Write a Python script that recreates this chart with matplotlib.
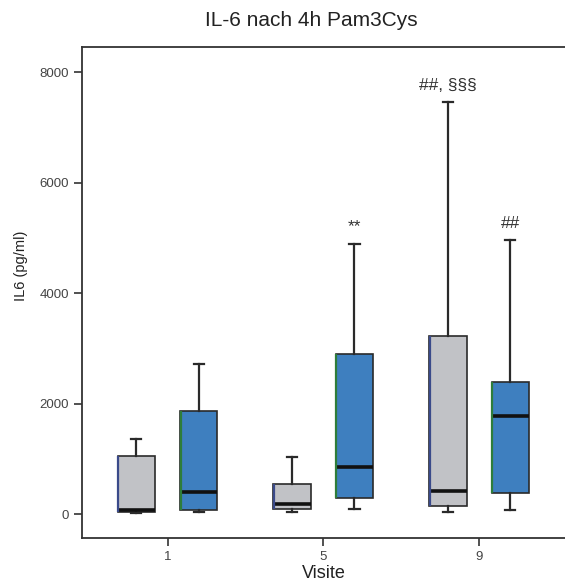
import matplotlib.pyplot as plt

plt.rcParams['font.family'] = ['Liberation Sans', 'DejaVu Sans']

# Visits on the x axis, two groups per visit
visits = ['1', '5', '9']
group_labels = ['Kontrolle', 'Verum']

# Box statistics per visit (pg/ml)
grey_whislo = [20, 30, 30]
grey_q1 = [40, 85, 145]
grey_med = [70, 181, 416]
grey_q3 = [1050, 548, 3222]
grey_whishi = [1357, 1032, 7452]

blue_whislo = [30, 90, 72]
blue_q1 = [72, 284, 380]
blue_med = [393, 845, 1774]
blue_q3 = [1864, 2896, 2395]
blue_whishi = [2720, 4892, 4954]

# Significance markers above the whiskers: (visit index, group, text)
markers = [(1, 1, '**'), (2, 0, '##, §§§'), (2, 1, '##')]

grey_color = '#c1c2c6'
blue_color = '#3e7fbf'
offset = 0.2
width = 0.24


def stats(lo, q1, med, q3, hi):
    return [dict(whislo=a, q1=b, med=c, q3=d, whishi=e, fliers=[])
            for a, b, c, d, e in zip(lo, q1, med, q3, hi)]


fig = plt.figure(figsize=(5.65, 5.82), dpi=100)
ax = fig.add_axes([0.145, 0.0756, 0.86, 0.8434])

positions = list(range(len(visits)))
groups = [
    (stats(grey_whislo, grey_q1, grey_med, grey_q3, grey_whishi), grey_color, '#3a4a8a', -offset),
    (stats(blue_whislo, blue_q1, blue_med, blue_q3, blue_whishi), blue_color, '#2e7d3a', offset),
]
for st, fc, side, dx in groups:
    pos = [p + dx for p in positions]
    ax.bxp(st, positions=pos, widths=width, patch_artist=True, showfliers=False,
           capwidths=0.065,
           boxprops=dict(facecolor=fc, edgecolor='#2a2a2a', linewidth=1.2),
           medianprops=dict(color='#111111', linewidth=2.6),
           whiskerprops=dict(color='#2a2a2a', linewidth=1.6),
           capprops=dict(color='#2a2a2a', linewidth=1.6))
    # coloured left edge of each box
    ax.vlines([p - width / 2 + 0.004 for p in pos], [s['q1'] for s in st],
              [s['q3'] for s in st], colors=side, linewidth=1.6, zorder=3)

all_hi = [grey_whishi, blue_whishi]
for vi, gi, txt in markers:
    x = positions[vi] + (offset if gi else -offset)
    ax.text(x, all_hi[gi][vi] + 170, txt, ha='center', va='bottom',
            fontsize=12.5, color='#333333')

ax.set_xlim(-0.55, 2.57)
ax.set_ylim(-434, 8452)
ax.set_xticks(positions)
ax.set_xticklabels(visits)
ax.set_yticks([0, 2000, 4000, 6000, 8000])
ax.tick_params(axis='both', labelsize=9.5, labelcolor='#444444', color='#333333',
               width=1.2, length=6)
ax.spines['right'].set_visible(False)
for s in ['left', 'bottom', 'top']:
    ax.spines[s].set_color('#333333')
    ax.spines[s].set_linewidth(1.3)

ax.set_xlabel('Visite', fontsize=13, color='#222222')
ax.xaxis.set_label_coords(0.497, -0.055)
ax.set_ylabel('IL6 (pg/ml)', fontsize=10.5, color='#222222')
ax.yaxis.set_label_coords(-0.112, 0.554)
fig.text(0.551, 0.965, 'IL-6 nach 4h Pam3Cys', fontsize=15, color='#222222',
         ha='center', va='center')

fig.savefig('out.png', dpi=100, facecolor='white')
